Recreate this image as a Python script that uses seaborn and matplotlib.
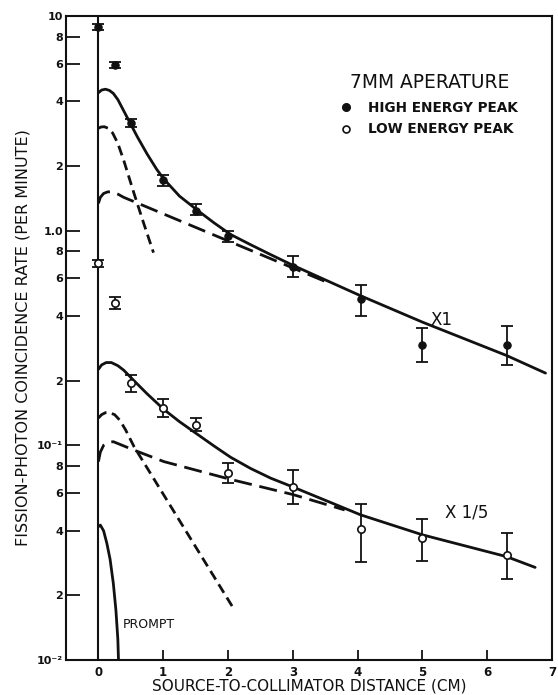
import matplotlib
matplotlib.use("Agg")
import matplotlib.pyplot as plt
from matplotlib.ticker import FixedLocator, FixedFormatter, NullLocator
from matplotlib.lines import Line2D
import numpy as np
import pandas as pd
import seaborn as sns

sns.set_theme(context="paper", style="ticks")
plt.rcParams["font.family"] = ["DejaVu Sans"]

# ---- measured coincidence rates (per minute) ----
dist = [0.0, 0.25, 0.5, 1.0, 1.5, 2.0, 3.0, 4.05, 5.0, 6.3]

high_rate = [8.9, 5.9, 3.17, 1.72, 1.24, 0.945, 0.68, 0.48, 0.293, 0.293]
high_lo = [8.65, 5.7, 3.03, 1.61, 1.18, 0.89, 0.61, 0.40, 0.245, 0.237]
high_hi = [9.2, 6.1, 3.3, 1.82, 1.33, 1.0, 0.765, 0.558, 0.351, 0.361]

low_rate = [0.705, 0.462, 0.196, 0.149, 0.125, 0.074, 0.0642, 0.0407, 0.0369, 0.0309]
low_lo = [0.68, 0.43, 0.178, 0.136, 0.116, 0.067, 0.0535, 0.0287, 0.029, 0.0238]
low_hi = [0.73, 0.49, 0.213, 0.164, 0.134, 0.0825, 0.077, 0.0535, 0.0454, 0.0392]

# ---- fitted curves: total, short-lived and long-lived components ----
high_total_x = [0, 0.05, 0.11, 0.17, 0.23, 0.30, 0.39, 0.49, 0.60, 0.75, 0.90, 1.01,
                1.25, 1.52, 1.78, 2.04, 2.35, 2.66, 3.0, 3.5, 4.03, 5.0, 6.3, 6.9]
high_total_y = [4.39, 4.52, 4.56, 4.50, 4.36, 4.08, 3.62, 3.17, 2.74, 2.28, 1.93, 1.74,
                1.45, 1.25, 1.09, 0.96, 0.86, 0.773, 0.69, 0.59, 0.50, 0.375, 0.262, 0.217]

high_short_x = [0, 0.04, 0.09, 0.15, 0.22, 0.30, 0.39, 0.55, 0.70, 0.85]
high_short_y = [3.0, 3.04, 3.05, 3.0, 2.85, 2.55, 2.13, 1.49, 1.08, 0.79]

high_long_x = [0, 0.03, 0.08, 0.14, 0.21, 0.30, 0.39, 3.5]
high_long_y = [1.34, 1.43, 1.49, 1.515, 1.52, 1.48, 1.43, 0.58]

low_total_x = [0, 0.05, 0.12, 0.20, 0.30, 0.39, 0.55, 0.75, 1.01, 1.25, 1.52, 1.78,
               2.04, 2.35, 2.66, 3.0, 4.05, 5.0, 6.3, 6.74]
low_total_y = [0.226, 0.237, 0.243, 0.243, 0.235, 0.224, 0.20, 0.174, 0.147, 0.129,
               0.113, 0.0995, 0.088, 0.078, 0.0703, 0.064, 0.0474, 0.0383, 0.0303, 0.027]

low_short_x = [0, 0.05, 0.11, 0.17, 0.25, 0.33, 0.42, 0.55, 2.1]
low_short_y = [0.134, 0.139, 0.142, 0.142, 0.139, 0.131, 0.118, 0.0986, 0.0171]

low_long_x = [0, 0.03, 0.08, 0.14, 0.23, 0.55, 1.01, 2.04, 3.0, 3.8]
low_long_y = [0.084, 0.093, 0.100, 0.103, 0.104, 0.095, 0.084, 0.0694, 0.059, 0.050]

prompt_x = [0, 0.03, 0.08, 0.13, 0.18, 0.23, 0.27, 0.30, 0.31]
prompt_y = [0.0418, 0.0425, 0.0400, 0.0350, 0.0295, 0.0228, 0.0171, 0.0125, 0.010]

y_ticks = [0.01, 0.02, 0.04, 0.06, 0.08, 0.1, 0.2, 0.4, 0.6, 0.8, 1.0, 2, 4, 6, 8, 10]
y_ticklabels = ["10\u207b\u00b2", "2", "4", "6", "8", "10\u207b\u00b9", "2", "4", "6", "8",
                "1.0", "2", "4", "6", "8", "10"]
x_ticks = [0, 1, 2, 3, 4, 5, 6, 7]

W, H = 558, 695
fig = plt.figure(figsize=(W / 100, H / 100), dpi=100)
ax = fig.add_axes([66 / W, 1 - 660 / H, (552 - 66) / W, (660 - 16) / H])
ax.set_yscale("log")
ax.set_xlim(-0.5, 7.0)
ax.set_ylim(0.01, 10)

ink = "#111111"

# source position line
ax.axvline(0, color=ink, lw=1.5, zorder=2)

long_dash = (0, (6.5, 2.8))
short_dash = (0, (3.6, 2.0))

curves = [
    (high_total_x, high_total_y, "-"),
    (high_short_x, high_short_y, short_dash),
    (high_long_x, high_long_y, long_dash),
    (low_total_x, low_total_y, "-"),
    (low_short_x, low_short_y, short_dash),
    (low_long_x, low_long_y, long_dash),
    (prompt_x, prompt_y, "-"),
]
for cx, cy, ls in curves:
    sns.lineplot(x=cx, y=cy, ax=ax, sort=False, estimator=None, color=ink,
                 lw=2.0, linestyle=ls, zorder=3)

# error bars
hr, lr = np.array(high_rate), np.array(low_rate)
ax.errorbar(dist, hr, yerr=[hr - np.array(high_lo), np.array(high_hi) - hr],
            fmt="none", ecolor=ink, elinewidth=1.3, capsize=4, capthick=1.3, zorder=4)
ax.errorbar(dist, lr, yerr=[lr - np.array(low_lo), np.array(low_hi) - lr],
            fmt="none", ecolor=ink, elinewidth=1.3, capsize=4, capthick=1.3, zorder=4)

pts = pd.DataFrame({"dist": dist, "high": high_rate, "low": low_rate})
sns.scatterplot(data=pts, x="dist", y="high", ax=ax, marker="o", s=28,
                color=ink, edgecolor=ink, linewidth=0.8, zorder=5)
sns.scatterplot(data=pts, x="dist", y="low", ax=ax, marker="o", s=28,
                facecolor="white", edgecolor=ink, linewidth=1.2, zorder=5)

# axes styling
for side in ["left", "bottom", "right", "top"]:
    ax.spines[side].set_linewidth(1.5)
    ax.spines[side].set_color(ink)
ax.yaxis.set_major_locator(FixedLocator(y_ticks))
ax.yaxis.set_major_formatter(FixedFormatter(y_ticklabels))
ax.yaxis.set_minor_locator(NullLocator())
ax.xaxis.set_major_locator(FixedLocator(x_ticks))
ax.xaxis.set_minor_locator(NullLocator())
ax.tick_params(axis="y", direction="in", length=10, width=1.3, pad=2,
               labelsize=8, colors=ink)
ax.tick_params(axis="x", direction="in", length=7, width=1.3, pad=4,
               labelsize=8.5, colors=ink)
for lab in ax.get_xticklabels() + ax.get_yticklabels():
    lab.set_fontweight("bold")

ax.set_xlabel("SOURCE-TO-COLLIMATOR DISTANCE (CM)", fontsize=11, color=ink, labelpad=0)
ax.set_ylabel("FISSION-PHOTON COINCIDENCE RATE (PER MINUTE)", fontsize=11.5,
              color=ink, labelpad=5)

# legend
ax.text((350 - 66) / 486, 1 - (83 - 16) / 644, "7MM APERATURE", transform=ax.transAxes,
        fontsize=13.4, color=ink, ha="left", va="center")
handles = [
    Line2D([], [], marker="o", ls="none", markersize=5.5, markerfacecolor=ink,
           markeredgecolor=ink),
    Line2D([], [], marker="o", ls="none", markersize=5, markerfacecolor="white",
           markeredgecolor=ink, markeredgewidth=1.2),
]
leg = ax.legend(handles, ["HIGH ENERGY PEAK", "LOW ENERGY PEAK"], loc="upper left",
                bbox_to_anchor=((341 - 66) / 486, 1 - (101 - 16) / 644), frameon=False,
                borderpad=0, borderaxespad=0, handlelength=0.8, handletextpad=1.2,
                labelspacing=0.55, prop={"size": 9.8, "weight": "bold"})
for t in leg.get_texts():
    t.set_color(ink)

# curve annotations
ax.text(5.3, 0.384, "X1", fontsize=12, color=ink, ha="center", va="center")
ax.text(5.69, 0.0484, "X 1/5", fontsize=12, color=ink, ha="center", va="center")
ax.text(0.37, 0.01456, "PROMPT", fontsize=9, color=ink, ha="left", va="center")

fig.savefig("out.png", dpi=100)
